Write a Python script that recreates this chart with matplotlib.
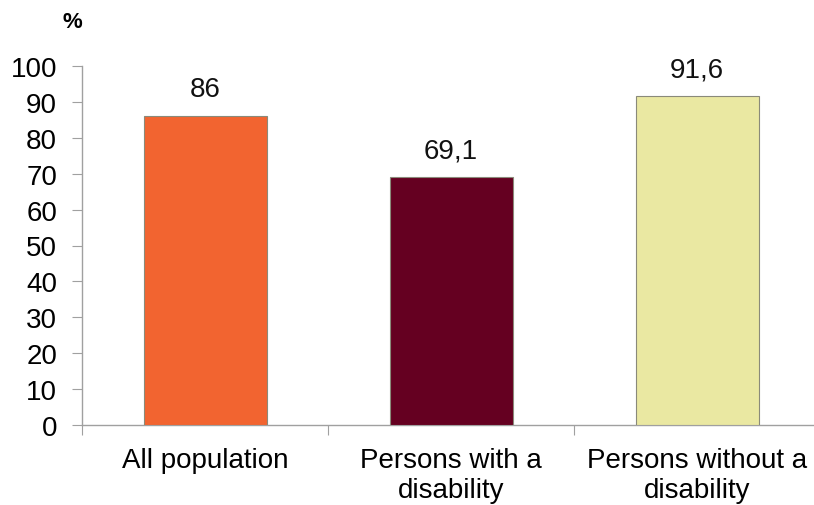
import matplotlib
matplotlib.use("Agg")
import matplotlib.pyplot as plt

categories = ["All population", "Persons with a\ndisability", "Persons without a\ndisability"]
values = [86, 69.1, 91.6]
value_labels = ["86", "69,1", "91,6"]
colors = ["#F26430", "#650021", "#EAE8A2"]
yticks = list(range(0, 101, 10))

plt.rcParams['font.family'] = ['Liberation Sans', 'DejaVu Sans']

W, H = 814, 506
fig = plt.figure(figsize=(W / 100, H / 100), dpi=100)
left, right, bottom, top = 82, 820, 426, 67
ax = fig.add_axes([left / W, (H - bottom) / H, (right - left) / W, (bottom - top) / H])

x = list(range(len(categories)))
bars = ax.bar(x, values, width=0.5, color=colors, edgecolor="#8A8A7A", linewidth=0.8, zorder=3)
for xi, v, lab in zip(x, values, value_labels):
    ax.annotate(lab, (xi, v), xytext=(0, 10), textcoords="offset points",
                ha="center", va="bottom", fontsize=20, color="#111111")

ax.set_xlim(-0.5, len(categories) - 0.5)
ax.set_ylim(0, 100)
ax.set_yticks(yticks)
ax.set_yticklabels([str(t) for t in yticks], fontsize=20)
ax.set_xticks([i - 0.5 for i in range(len(categories) + 1)])
ax.set_xticklabels([])
ax.set_xticks(x, minor=True)
ax.set_xticklabels(categories, minor=True, fontsize=20, linespacing=1.2)
ax.tick_params(axis="x", which="minor", length=0, pad=16)
ax.tick_params(axis="x", which="major", length=7, color="#A0A0A0", direction="out")
ax.tick_params(axis="y", length=7, color="#A0A0A0", direction="out", pad=11)

for s in ["top", "right"]:
    ax.spines[s].set_visible(False)
for s in ["left", "bottom"]:
    ax.spines[s].set_color("#A0A0A0")
    ax.spines[s].set_linewidth(1.0)

fig.text(72 / W, 1 - 23 / H, "%", ha="center", va="center", fontsize=16, fontweight="bold")

fig.savefig("out.png", dpi=100)
